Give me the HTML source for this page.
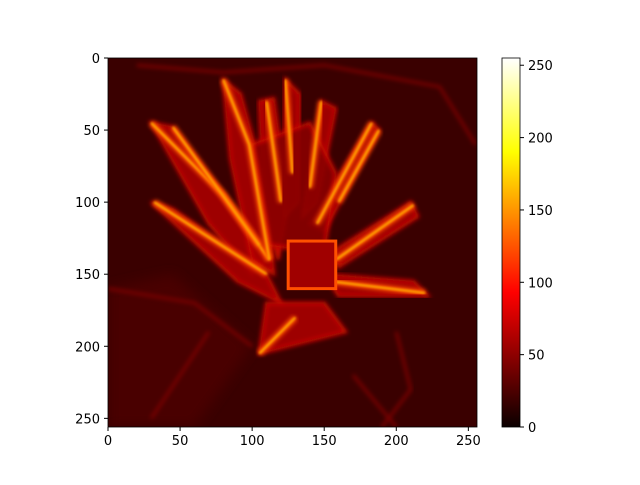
<!DOCTYPE html>
<html><head><meta charset="utf-8"><style>
body{margin:0;background:#fff;font-family:"Liberation Sans","DejaVu Sans",sans-serif}
svg text{font-family:"DejaVu Sans","Liberation Sans",sans-serif;font-size:13px;fill:#000}
</style></head><body>
<svg id="c" width="640" height="480">
<defs>
<clipPath id="clip"><rect x="108" y="58" width="369" height="369"/></clipPath>
<filter id="b1"><feGaussianBlur stdDeviation="1"/></filter>
<filter id="b2"><feGaussianBlur stdDeviation="2"/></filter>
<filter id="b6"><feGaussianBlur stdDeviation="6"/></filter>
<linearGradient id="hot" x1="0" y1="1" x2="0" y2="0">
<stop offset="0" stop-color="#0b0000"/><stop offset="0.365" stop-color="#ff0000"/>
<stop offset="0.746" stop-color="#ffff00"/><stop offset="1" stop-color="#ffffff"/>
</linearGradient>
</defs>
<g id="img" clip-path="url(#clip)">
<rect x="108" y="58" width="369" height="369" fill="#3a0000"/>
</g>
<g id="axes"></g>
<rect x="502" y="58" width="18" height="369" fill="url(#hot)" stroke="#000" stroke-width="0.8"/>
<rect x="108" y="58" width="369" height="369" fill="none" stroke="#000" stroke-width="0.8"/>
</svg>
<script>
const xTicks=[0,50,100,150,200,250];
const yTicks=[0,50,100,150,200,250];
const cbTicks=[0,50,100,150,200,250];
const petals=[
 [[30,45],[45,48],[80,95],[110,140],[100,150],[70,115]],
 [[80,15],[92,25],[110,90],[115,150],[100,140],[85,70]],
 [[105,30],[115,28],[125,100],[118,140],[108,100]],
 [[123,15],[133,25],[132,100],[122,110]],
 [[148,30],[158,35],[145,100],[135,110]],
 [[183,45],[188,50],[150,120],[140,115]],
 [[210,100],[215,110],[160,145],[155,135]],
 [[212,155],[222,165],[160,165],[150,150]],
 [[30,100],[45,105],[110,150],[120,170],[90,155]],
 [[110,170],[150,170],[165,190],[105,205]],
 [[100,60],[140,45],[158,80],[150,135],[112,130]]
];
const glowLines=[
 [[30,45],[80,95],[112,140]],[[80,15],[98,60],[112,140]],[[123,15],[128,80]],
 [[148,30],[140,90]],[[183,45],[145,115]],[[212,102],[158,140]],[[220,163],[155,155]],
 [[32,100],[110,150]],[[105,205],[130,180]],[[110,30],[120,100]],
 [[45,48],[105,130]],[[188,50],[160,100]]
];
const bgLines=[
 [[20,5],[80,10],[150,5],[230,20],[255,60]],[[0,160],[60,170],[100,200]],
 [[30,250],[70,190]],[[200,190],[210,230],[190,256]],[[170,220],[200,256]]
];
const x=d=>108+d*369/256, y=d=>58+d*369/256;
const cy=v=>427-v*369/255;
const NS="http://www.w3.org/2000/svg";
const img=document.getElementById('img');
function mk(t,a,p){const e=document.createElementNS(NS,t);for(const k in a)e.setAttribute(k,a[k]);p.appendChild(e);return e;}
const pts=a=>a.map(p=>x(p[0])+','+y(p[1])).join(' ');
const r1=mk('polygon',{points:pts([[45,150],[100,200],[60,256],[0,256],[0,160]]),fill:'#4a0000',filter:'url(#b6)'},img);


bgLines.forEach((p,i)=>{
 const e=mk('polyline',{points:pts(p),fill:'none',stroke:'#7a0000','stroke-width':3,filter:'url(#b2)'},img);
 
 
});
petals.forEach((p,i)=>{
 const e=mk('polygon',{points:pts(p),fill:i==10?'#8a0000':'#a80000','fill-opacity':0.9,stroke:'#d01000','stroke-width':3,filter:'url(#b2)'},img);
 
 
});
glowLines.forEach((p,i)=>{
 const e=mk('polyline',{points:pts(p),fill:'none',stroke:'#ff5000','stroke-width':6,filter:'url(#b2)'},img);
 
 
 const c=mk('polyline',{points:pts(p),fill:'none',stroke:'#ffb000','stroke-width':2,filter:'url(#b1)'},img);
 
 
});
const sq=mk('rect',{x:x(125),y:y(127),width:369*33/256,height:369*33/256,fill:'#a00000',stroke:'#ff5000','stroke-width':3},img);


const ax=document.getElementById('axes');
xTicks.forEach(v=>{
 mk('line',{x1:x(v),x2:x(v),y1:427,y2:431,stroke:'#000'},ax);
 const t=mk('text',{x:x(v),y:445,'text-anchor':'middle'},ax);t.textContent=v;
 
 
});
yTicks.forEach(v=>{
 mk('line',{x1:104,x2:108,y1:y(v),y2:y(v),stroke:'#000'},ax);
 const t=mk('text',{x:100,y:y(v)+5,'text-anchor':'end'},ax);t.textContent=v;
 
 
});
cbTicks.forEach(v=>{
 mk('line',{x1:520,x2:524,y1:cy(v),y2:cy(v),stroke:'#000'},ax);
 const t=mk('text',{x:528,y:cy(v)+5},ax);t.textContent=v;
 
 
});
</script>
</body></html>
